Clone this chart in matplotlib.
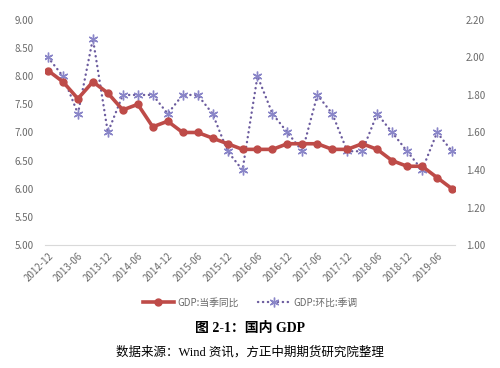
import matplotlib.pyplot as plt

plt.rcParams['font.family'] = ['Noto Sans CJK SC', 'DejaVu Sans']

quarters = ['2012-12', '2013-03', '2013-06', '2013-09', '2013-12',
            '2014-03', '2014-06', '2014-09', '2014-12',
            '2015-03', '2015-06', '2015-09', '2015-12',
            '2016-03', '2016-06', '2016-09', '2016-12',
            '2017-03', '2017-06', '2017-09', '2017-12',
            '2018-03', '2018-06', '2018-09', '2018-12',
            '2019-03', '2019-06', '2019-09']
gdp_yoy = [8.1, 7.9, 7.6, 7.9, 7.7, 7.4, 7.5, 7.1, 7.2, 7.0, 7.0, 6.9, 6.8,
           6.7, 6.7, 6.7, 6.8, 6.8, 6.8, 6.7, 6.7, 6.8, 6.7, 6.5, 6.4,
           6.4, 6.2, 6.0]
gdp_qoq = [2.0, 1.9, 1.7, 2.1, 1.6, 1.8, 1.8, 1.8, 1.7, 1.8, 1.8, 1.7, 1.5,
           1.4, 1.9, 1.7, 1.6, 1.5, 1.8, 1.7, 1.5, 1.5, 1.7, 1.6, 1.5,
           1.4, 1.6, 1.5]

x = list(range(len(quarters)))
gray = '#6A6A6A'

fig = plt.figure(figsize=(5, 3.68), dpi=100)
ax = fig.add_axes([0.09, 0.334, 0.82, 0.612])
ax2 = ax.twinx()

l1, = ax.plot(x, gdp_yoy, color='#BE4B48', lw=2.6, marker='o', ms=5,
              label='GDP:当季同比', zorder=3)
l2, = ax2.plot(x, gdp_qoq, color='#6B5B9E', lw=1.7, ls=(0, (0.1, 2.0)),
               dash_capstyle='round', marker=(6, 2, 0), ms=7,
               mec='#8A86C8', mew=1.0, label='GDP:环比:季调', zorder=2)
ax.set_zorder(ax2.get_zorder() + 1)
ax.patch.set_visible(False)

ax.set_xlim(-0.2, len(x) - 0.8)
ax.set_ylim(5, 9)
ax.set_yticks([5 + 0.5 * i for i in range(9)])
ax.set_yticklabels(['%.2f' % (5 + 0.5 * i) for i in range(9)])
ax2.set_ylim(1.0, 2.2)
ax2.set_yticks([1.0 + 0.2 * i for i in range(7)])
ax2.set_yticklabels(['%.2f' % (1.0 + 0.2 * i) for i in range(7)])

ax.set_xticks(x[::2])
ax.set_xticklabels(quarters[::2], rotation=45, ha='right',
                   rotation_mode='anchor')

for a in (ax, ax2):
    for s in a.spines.values():
        s.set_visible(False)
    a.tick_params(length=0, labelsize=7, colors=gray)
ax.spines['bottom'].set_visible(True)
ax.spines['bottom'].set_color('#D9D9D9')
ax.tick_params(axis='y', pad=8)
ax.tick_params(axis='x', pad=4)
ax2.tick_params(axis='y', pad=8)

fig.legend(handles=[l1, l2], loc='center', bbox_to_anchor=(0.5, 0.177),
           ncol=2, frameon=False, fontsize=7, labelcolor=gray,
           handlelength=3.2, columnspacing=2.0, handletextpad=0.4)

fig.text(0.5, 0.108, '图 2-1：国内 GDP', ha='center', va='center',
         fontsize=10, fontweight='bold',
         family=['Liberation Serif', 'Noto Sans CJK SC'])
fig.text(0.5, 0.042, '数据来源：Wind 资讯，方正中期期货研究院整理', ha='center',
         va='center', fontsize=9,
         family=['Liberation Serif', 'Noto Sans CJK SC'])

fig.savefig('out.png', dpi=100)
